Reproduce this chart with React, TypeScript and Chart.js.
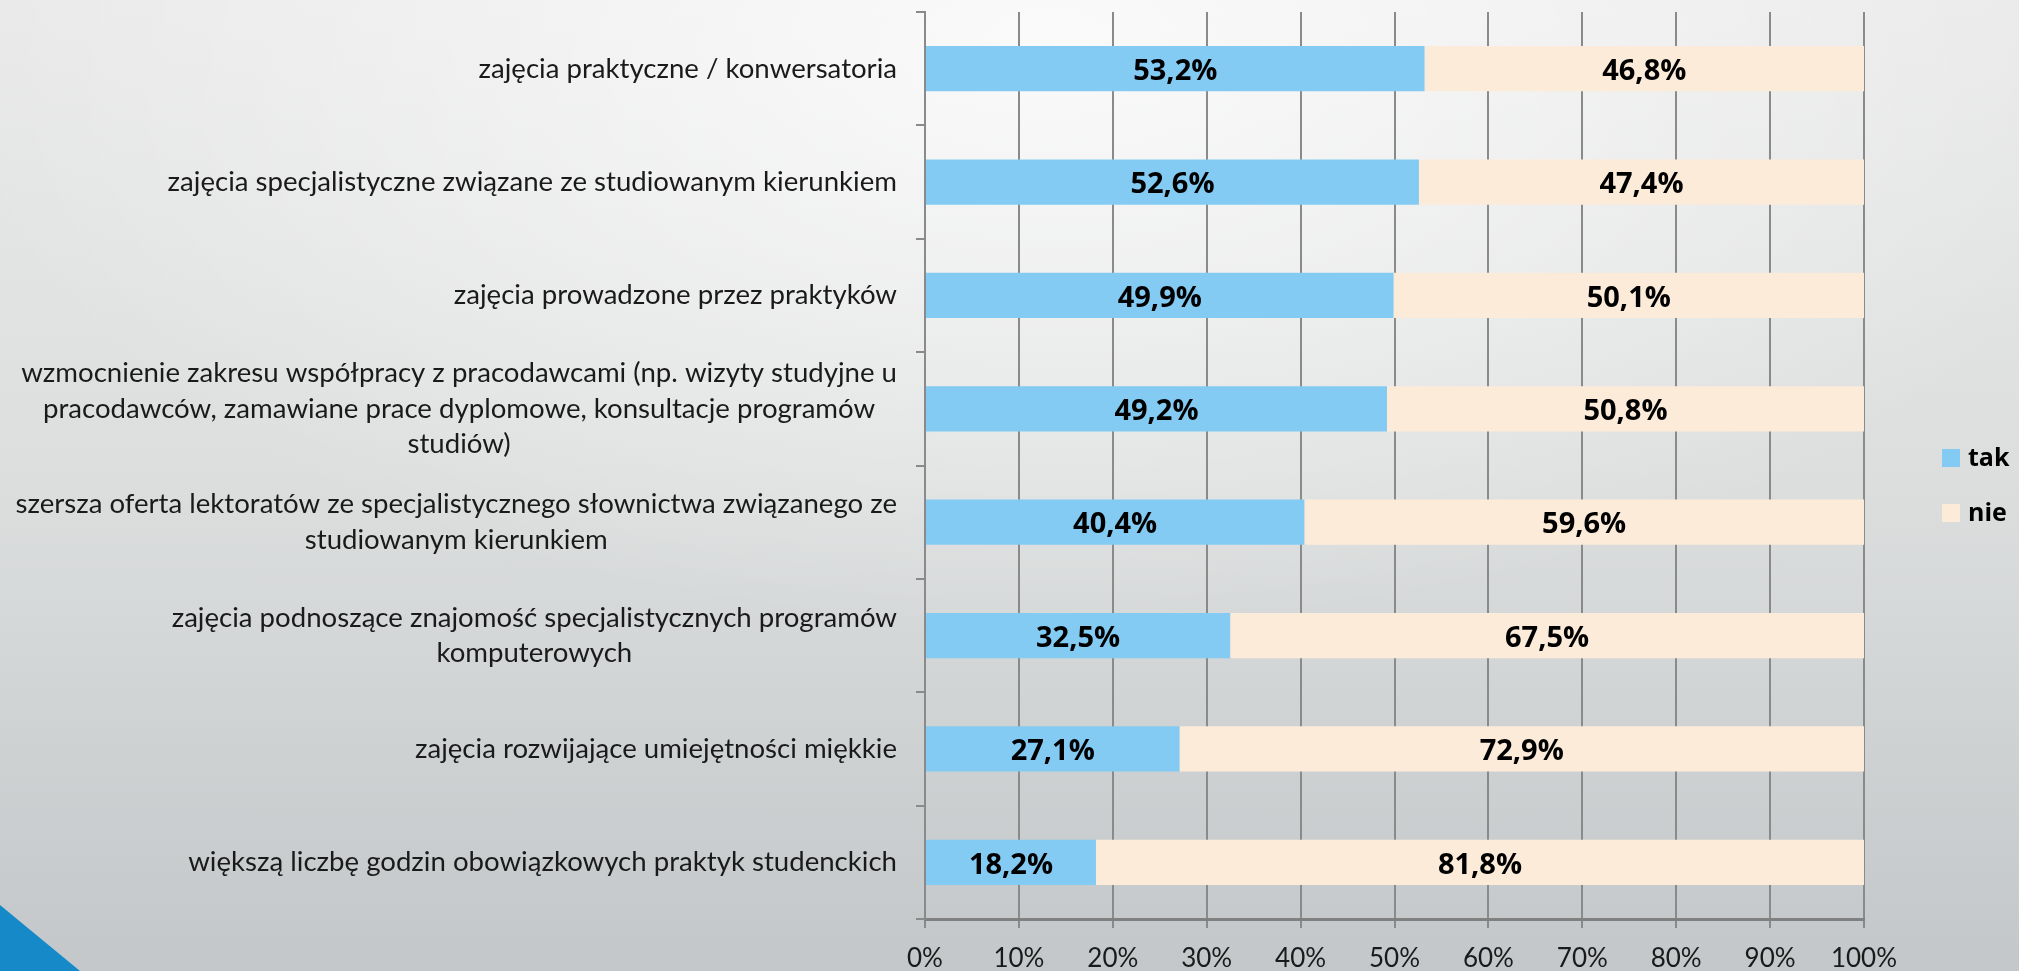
import React, { useEffect, useRef } from "react";
import { Chart, registerables } from "chart.js";

Chart.register(...registerables);

const categories: (string | string[])[] = [
  "zajęcia praktyczne / konwersatoria",
  "zajęcia specjalistyczne związane ze studiowanym kierunkiem",
  "zajęcia prowadzone przez praktyków",
  [
    "wzmocnienie zakresu współpracy z pracodawcami (np. wizyty studyjne u",
    "pracodawców, zamawiane prace dyplomowe, konsultacje programów",
    "studiów)",
  ],
  [
    "szersza oferta lektoratów ze specjalistycznego słownictwa związanego ze",
    "studiowanym kierunkiem",
  ],
  ["zajęcia podnoszące znajomość specjalistycznych programów", "komputerowych"],
  "zajęcia rozwijające umiejętności miękkie",
  "większą liczbę godzin obowiązkowych praktyk studenckich",
];

const takValues = [53.2, 52.6, 49.9, 49.2, 40.4, 32.5, 27.1, 18.2];
const nieValues = [46.8, 47.4, 50.1, 50.8, 59.6, 67.5, 72.9, 81.8];
const seriesNames = ["tak", "nie"];
const seriesColors = ["#83cbf3", "#fbebd8"];

const W = 2019;
const H = 971;

const fmt = (v: number) => v.toFixed(1).replace(".", ",") + "%";

const drawPlugin = {
  id: "customDraw",
  afterDraw(chart: any) {
    const ctx = chart.ctx as CanvasRenderingContext2D;
    const ys = chart.scales.y;
    const area = chart.chartArea;
    ctx.save();

    // category labels (centered blocks, right aligned)
    ctx.font = "27.6px Lato";
    ctx.fillStyle = "#1a1a1a";
    ctx.textBaseline = "middle";
    ctx.textAlign = "center";
    const labelRight = area.left - 28;
    const lh = 35.5;
    categories.forEach((lab, i) => {
      const lines = Array.isArray(lab) ? lab : [lab];
      const widest = Math.max(...lines.map((l) => ctx.measureText(l).width));
      const cx = labelRight - widest / 2;
      const cy = ys.getPixelForValue(i);
      lines.forEach((l, j) => {
        ctx.fillText(l, cx, cy + (j - (lines.length - 1) / 2) * lh);
      });
    });

    // data labels
    ctx.font = "bold 29px 'Open Sans'";
    ctx.fillStyle = "#000000";
    chart.data.datasets.forEach((ds: any, di: number) => {
      const meta = chart.getDatasetMeta(di);
      meta.data.forEach((bar: any, i: number) => {
        const p = bar.getProps(["x", "base", "y"], true);
        ctx.fillText(fmt(ds.data[i]), (p.x + p.base) / 2, p.y + 3);
      });
    });

    // legend
    ctx.font = "bold 25px 'Open Sans'";
    ctx.textAlign = "left";
    const lx = area.right + 78;
    const midY = chart.height / 2;
    seriesNames.forEach((name, i) => {
      const cy = midY + (i - 0.5) * 55;
      ctx.fillStyle = seriesColors[i];
      ctx.fillRect(lx, cy - 9, 18, 18);
      ctx.fillStyle = "#000000";
      ctx.fillText(name, lx + 26, cy + 1);
    });
    ctx.restore();
  },
};

export default function App() {
  const ref = useRef<HTMLCanvasElement | null>(null);
  useEffect(() => {
    if (!ref.current) return;
    const chart = new Chart(ref.current, {
      type: "bar",
      data: {
        labels: categories.map((c) => (Array.isArray(c) ? c.join(" ") : c)),
        datasets: [
          {
            label: seriesNames[0],
            data: takValues,
            backgroundColor: seriesColors[0],
            categoryPercentage: 1,
            barPercentage: 0.4,
          },
          {
            label: seriesNames[1],
            data: nieValues,
            backgroundColor: seriesColors[1],
            categoryPercentage: 1,
            barPercentage: 0.4,
          },
        ],
      },
      options: {
        indexAxis: "y",
        responsive: false,
        animation: false,
        layout: { padding: { top: 12, right: 155, left: 0, bottom: 0 } },
        plugins: {
          legend: { display: false },
          tooltip: { enabled: false },
        },
        scales: {
          x: {
            stacked: true,
            min: 0,
            max: 100,
            ticks: {
              stepSize: 10,
              callback: (v: any) => v + "%",
              font: { family: "Lato", size: 26 },
              color: "#1a1a1a",
              padding: 15,
              maxRotation: 0,
            },
            grid: {
              color: "#8a8a8a",
              lineWidth: 2,
              tickLength: 9,
              tickColor: "#8a8a8a",
            },
            border: { color: "#808080", width: 3 },
            afterFit: (s: any) => {
              s.height = 52;
            },
          },
          y: {
            stacked: true,
            ticks: { display: false },
            grid: {
              offset: true,
              drawOnChartArea: false,
              tickLength: 9,
              color: "#8a8a8a",
              lineWidth: 2,
            },
            border: { color: "#8a8a8a", width: 2 },
            afterFit: (s: any) => {
              s.width = 925;
            },
          },
        },
      },
      plugins: [drawPlugin],
    });
    const fontsReady = (document as any).fonts?.ready;
    if (fontsReady) fontsReady.then(() => chart.update());
    return () => chart.destroy();
  }, []);

  return (
    <div
      style={{
        position: "fixed",
        left: 0,
        top: 0,
        width: W,
        height: H,
        overflow: "hidden",
        background:
          "radial-gradient(ellipse 55% 60% at 52% 5%, rgba(255,255,255,0.8) 0%, rgba(255,255,255,0) 100%), linear-gradient(to bottom, #e9e9e9 0%, #dcdede 50%, #c3c7c9 100%)",
      }}
    >
      <div
        style={{
          position: "absolute",
          left: 0,
          top: 0,
          width: W,
          height: H,
          background: "#1689c9",
          clipPath: "polygon(0px 905px, 80px 971px, 0px 971px)",
        }}
      />
      <canvas
        ref={ref}
        width={W}
        height={H}
        style={{ position: "absolute", left: 0, top: 0, width: W, height: H }}
      />
    </div>
  );
}
